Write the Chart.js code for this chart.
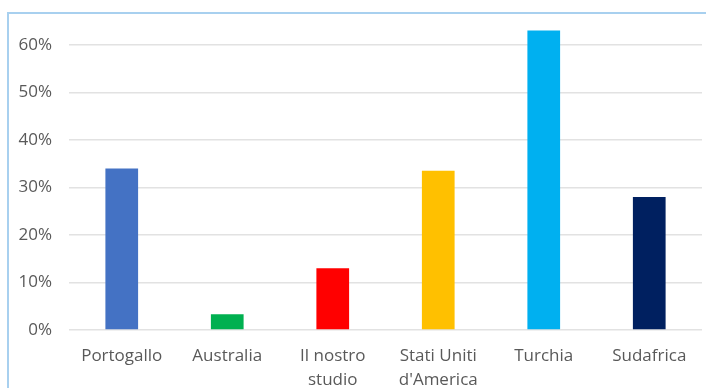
<!DOCTYPE html>
<html>
<head>
<meta charset="utf-8">
<script src="https://cdn.jsdelivr.net/npm/chart.js@4"></script>
<style>
  html, body { margin: 0; padding: 0; background: #ffffff; }
  #wrap { position: relative; width: 706px; height: 388px; overflow: hidden; }
  #frame {
    position: absolute; left: 7px; top: 12px; width: 760px; height: 420px;
    border-top: 2px solid #a8d0ef; border-left: 2px solid #a8d0ef;
    box-sizing: border-box;
  }
  #chart { position: absolute; left: 0; top: 0; }
</style>
</head>
<body>
<div id="wrap">
  <div id="frame"></div>
  <canvas id="chart" width="706" height="388"></canvas>
</div>
<script>
// Paesi confrontati e quota percentuale per ciascuno
const categories = ["Portogallo", "Australia", ["Il nostro", "studio"], ["Stati Uniti", "d'America"], "Turchia", "Sudafrica"];
const values = [34, 3.3, 13, 33.5, 63, 28];
const barColors = ["#4472c4", "#00b050", "#ff0000", "#ffc000", "#00b0f0", "#002060"];
const yTicks = [0, 10, 20, 30, 40, 50, 60];

const textColor = "#595959";
const fontFamily = "'Open Sans', 'Liberation Sans', sans-serif";

new Chart(document.getElementById("chart"), {
  type: "bar",
  data: {
    labels: categories,
    datasets: [{
      data: values,
      backgroundColor: barColors,
      borderWidth: 0,
      barPercentage: 0.31,
      categoryPercentage: 1.0
    }]
  },
  options: {
    responsive: false,
    animation: false,
    layout: { padding: { left: 0, right: 4, top: 0, bottom: 0 } },
    plugins: { legend: { display: false }, tooltip: { enabled: false } },
    scales: {
      x: {
        grid: { display: false, drawTicks: false },
        border: { display: false },
        ticks: {
          color: textColor,
          font: { family: fontFamily, size: 17, lineHeight: 1.42 },
          padding: 14,
          maxRotation: 0,
          autoSkip: false
        },
        afterFit: (scale) => { scale.height = 58; }
      },
      y: {
        min: 0,
        max: 63.7,
        grid: { color: "#e2e2e2", lineWidth: 1.5, drawTicks: false },
        border: { display: false },
        ticks: {
          color: textColor,
          font: { family: fontFamily, size: 17 },
          padding: 17,
          callback: (v) => v + "%"
        },
        afterBuildTicks: (scale) => {
          scale.ticks = yTicks.map((v) => ({ value: v }));
        },
        afterFit: (scale) => { scale.width = 69; }
      }
    }
  }
});
</script>
</body>
</html>
